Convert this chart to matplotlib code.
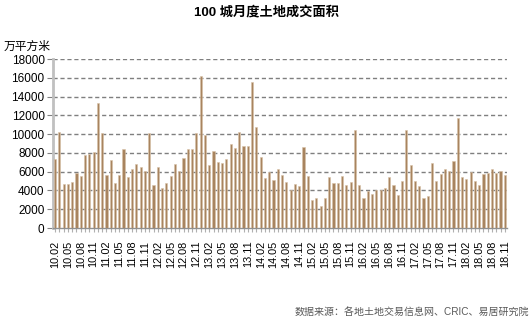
import numpy as np
import matplotlib.pyplot as plt

plt.rcParams['font.family'] = ['Liberation Sans', 'Noto Sans CJK SC', 'DejaVu Sans']

# meses de 2010.02 ate 2018.11
meses = []
for ano in range(2010, 2019):
    for mes in range(1, 13):
        if (ano == 2010 and mes < 2) or (ano == 2018 and mes > 11):
            continue
        meses.append("%02d.%02d" % (ano % 100, mes))

# area negociada (万平方米)
area = [7400, 10200, 4700, 4700, 4950, 5900, 5550, 7800, 7900, 8100,
        13300, 10100, 5700, 7200, 4800, 5700, 8400, 5400, 6300, 6800,
        6500, 6100, 10100, 4600, 6500, 4300, 4800, 5500, 6800, 6100,
        7500, 8400, 8400, 10100, 16200, 9900, 6750, 8200, 7000, 6950,
        7400, 9000, 8500, 10200, 8700, 8700, 15600, 10750, 7550, 5300,
        5950, 5100, 6300, 5650, 4950, 4100, 4700, 4500, 8650, 5500,
        2950, 3200, 2350, 3200, 5450, 4800, 4800, 5500, 4600, 4950,
        10450, 4600, 3250, 3950, 3650, 4100, 4050, 4300, 5400, 4600,
        3500, 5050, 10450, 6750, 5050, 4450, 3250, 3400, 6900, 5050,
        5800, 6300, 6050, 7150, 11700, 5450, 5250, 5950, 5050, 4600,
        5750, 5900, 6300, 5900, 6050, 5600]

yticks = list(range(0, 18001, 2000))

fig = plt.figure(figsize=(5.32, 3.23), dpi=100)
ax = fig.add_axes([0.0994, 0.294, 0.8536, 0.523])

x = np.arange(len(meses))
ax.bar(x, area, width=0.5, color='#a8845f', edgecolor='#d8c2a8', linewidth=0.4, zorder=3)

ax.set_xlim(-0.5, len(meses) - 0.5)
ax.set_ylim(0, 18000)
ax.set_yticks(yticks)
ax.set_yticklabels([str(v) for v in yticks], fontsize=8.5)

# todos os meses tem marca, so um a cada 3 tem rotulo
ax.set_xticks(x)
ax.set_xticklabels([m if i % 3 == 0 else '' for i, m in enumerate(meses)],
                   rotation=90, fontsize=7.8)
ax.tick_params(axis='x', length=3, color='#b0b0b0', pad=6)
ax.tick_params(axis='y', length=4, color='#808080', pad=2)

for y in yticks[1:]:
    ax.axhline(y, color='#7f7f7f', linewidth=1, linestyle=(0, (3, 2)), zorder=1)

ax.spines['top'].set_visible(False)
ax.spines['right'].set_visible(False)
ax.spines['left'].set_color('#c0c0c0')
ax.spines['left'].set_linewidth(2)
ax.spines['bottom'].set_color('#909090')
ax.spines['bottom'].set_linewidth(1)

fig.text(0.5, 0.963, '100 城月度土地成交面积', ha='center', va='center',
         fontsize=9.5, fontweight='bold')
fig.text(0.006, 0.854, '万平方米', ha='left', va='center', fontsize=8.5)
fig.text(0.994, 0.031, '数据来源：各地土地交易信息网、CRIC、易居研究院', ha='right',
         va='center', fontsize=7.2, color='#595959')

plt.savefig('out.png', dpi=100)
